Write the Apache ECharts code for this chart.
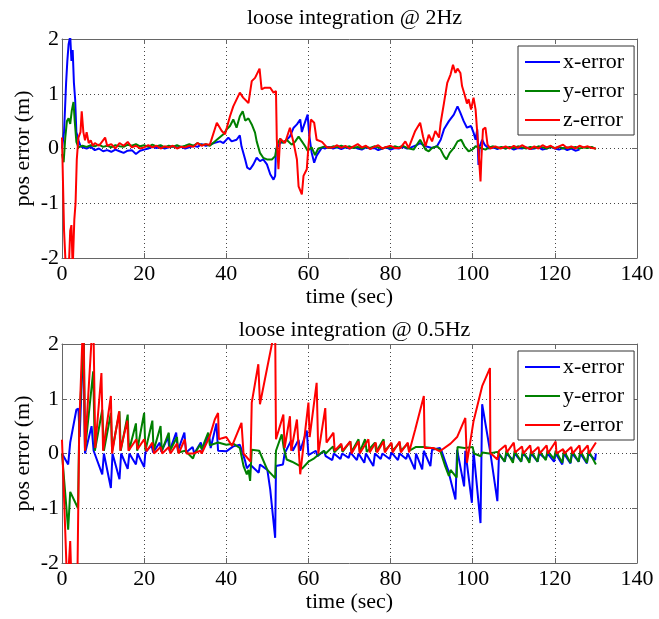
<!DOCTYPE html>
<html>
<head>
<meta charset="utf-8">
<script src="https://cdn.jsdelivr.net/npm/echarts@6/dist/echarts.min.js"></script>
<style>html,body{margin:0;padding:0;background:#fff}#c{width:659px;height:619px}</style>
</head>
<body>
<div id="c"></div>
<script>
var titles = ['loose integration @ 2Hz', 'loose integration @ 0.5Hz'];
var seriesNames = ['x-error', 'y-error', 'z-error'];
var xTicks = [0, 20, 40, 60, 80, 100, 120, 140];
var yTicks = [-2, -1, 0, 1, 2];

// top plot (2 Hz)
var topX = [[0,0],[0.5,0.3],[1,1.2],[1.3,1.6],[1.6,1.9],[2,2.05],[2.3,1.6],[2.6,1.8],[2.9,1.2],[3.2,0.9],[3.5,0.3],[4,0.15],[4.5,0.05],[5,0.02],[6,0.0],[7,0.03],[8,-0.03],[9,0.0],[10,-0.05],[11,-0.03],[12,-0.06],[13,-0.02],[14,-0.05],[15,-0.08],[16,-0.04],[17,-0.03],[18,-0.1],[19,-0.04],[20,-0.02],[21,0.0],[22,0.03],[23,0.01],[24,0.03],[25,0.0],[26,0.02],[27,0.04],[28,0.02],[29,0.03],[30,0.0],[31,0.02],[32,0.05],[33,0.03],[34,0.08],[35,0.05],[36,0.07],[37,0.1],[38.5,0.13],[39.3,0.1],[40.5,0.2],[41.3,0.13],[42.5,0.16],[43.3,0.24],[43.7,0.04],[44.6,-0.2],[45.1,-0.35],[45.8,-0.38],[46.6,-0.29],[47.4,-0.17],[48.2,-0.23],[49,-0.2],[49.9,-0.29],[50.7,-0.47],[51.5,-0.57],[51.9,-0.5],[52.1,-0.02],[53.1,0.1],[54.3,0.13],[55.5,0.22],[56.4,0.38],[57.2,0.44],[58,0.53],[58.4,0.3],[58.8,0.4],[59.8,0.62],[60.2,0.24],[60.8,-0.08],[61.4,-0.26],[62,-0.13],[63.3,0.02],[64,0.0],[65,0.03],[66,0.0],[67,0.02],[68,-0.01],[69,0.02],[70,0.0],[71,0.03],[72,0.0],[73,-0.02],[74,0.02],[75,0.0],[76,0.01],[77,-0.03],[78,0.0],[79,0.02],[80,-0.02],[81,0.01],[82,0.0],[83,0.03],[84,0.0],[85,0.02],[86,0.05],[87.2,0.1],[88.5,0.04],[90.1,0.01],[91.3,0.04],[92.2,0.16],[93,0.35],[94.2,0.5],[95.4,0.62],[96.3,0.77],[97,0.65],[97.8,0.5],[98.6,0.38],[99.6,0.41],[100.2,0.29],[100.7,0.16],[101.1,0.35],[101.4,-0.3],[101.7,0.04],[102.3,0.16],[102.9,0.07],[103.9,0.0],[105,0.02],[106,-0.01],[107,0.02],[108,0.0],[109,0.02],[110,-0.02],[111,0.01],[112,0.0],[113,0.02],[114,-0.01],[115,0.0],[116,0.02],[117,-0.02],[118,0.0],[119,0.03],[120,0.0],[121,-0.02],[122,0.01],[123,-0.03],[124,0.0],[125,-0.04],[126,-0.02]];
var topY = [[0,-0.1],[0.4,-0.25],[0.8,0.2],[1.2,0.5],[1.6,0.55],[2,0.45],[2.4,0.7],[2.8,0.85],[3.1,0.5],[3.5,0.12],[4,0.02],[5,0.05],[6,0.03],[7,0.06],[8,0.04],[9,0.07],[10,0.03],[11,0.05],[12,0.02],[13,0.06],[14,0.04],[15,0.03],[16,0.07],[17,0.05],[18,0.08],[19,0.04],[20,0.06],[21,0.03],[22,0.07],[23,0.04],[24,0.06],[25,0.02],[26,0.05],[27,0.03],[28,0.06],[29,0.03],[30,0.05],[31,0.08],[32,0.05],[33,0.1],[34,0.06],[35,0.08],[36,0.05],[37.7,0.16],[39.3,0.26],[40.1,0.35],[40.9,0.41],[41.7,0.53],[42.5,0.38],[43.3,0.59],[44,0.68],[44.6,0.51],[45.4,0.55],[46.2,0.44],[47,0.29],[47.4,0.13],[48.2,-0.08],[49,-0.17],[49.9,-0.2],[51.1,-0.2],[51.9,-0.14],[52.4,0.07],[53.1,0.18],[53.8,0.1],[54.7,0.16],[55.9,0.07],[56.8,0.13],[57.6,0.22],[58.4,0.13],[59.2,0.04],[59.8,-0.04],[60.8,0.02],[61.6,-0.12],[62.4,0.0],[63.3,0.02],[64,0.04],[65,0.01],[66,0.04],[67,0.02],[68,0.05],[69,0.02],[70,0.04],[71,0.01],[72,0.03],[73,0.0],[74,0.03],[75,0.01],[76,0.04],[77,0.02],[78,0.0],[79,0.03],[80,0.01],[81,0.04],[82,0.02],[83,0.05],[84,0.01],[85.6,-0.02],[87.2,0.16],[88.5,-0.02],[89.3,-0.05],[90.1,0.01],[91.3,0.04],[92.2,-0.02],[93,-0.14],[93.6,-0.2],[94.4,-0.08],[95.4,0.01],[96.3,0.13],[97.2,0.16],[98,0.04],[99,-0.05],[99.9,-0.02],[100.7,0.04],[101.9,0.01],[103.1,-0.02],[104,0.02],[105,0.04],[106,0.01],[107,0.03],[108,0.0],[109,0.03],[110,0.01],[111,0.04],[112,0.02],[113,0.0],[114,0.03],[115,0.01],[116,0.04],[117,0.02],[118,0.0],[119,0.03],[120,0.01],[121,0.03],[122,0.0],[123,0.02],[124,0.01],[125,0.03],[126,0.0],[127,0.02],[128,0.01],[129,0.03],[130,-0.01]];
var topZ = [[0,0.2],[0.5,-1.5],[1,-2.3],[1.5,-2.5],[2,-1.5],[2.3,-1.4],[2.6,-2.2],[3,-1.3],[3.3,-1.0],[3.6,-0.2],[4,0.2],[4.5,0.3],[4.8,0.68],[5.2,0.3],[5.6,0.15],[6,0.3],[6.5,0.1],[7,0.15],[7.5,0.05],[8,0.1],[9,0.05],[10,0.15],[10.5,0.2],[11,0.05],[12,0.08],[13,0.0],[14,0.1],[15,0.05],[16,0.12],[17,0.02],[18,0.05],[19,0.0],[20,0.02],[21,0.06],[22,0.02],[23,0.05],[24,0.0],[25,0.04],[26,0.02],[27,0.05],[28,0.0],[29,0.03],[30,0.02],[31,0.05],[32,0.03],[33,0.1],[34,0.05],[35,0.08],[36,0.07],[37.7,0.47],[38.9,0.32],[39.7,0.26],[40.9,0.59],[41.7,0.77],[43.3,1.02],[44.1,0.93],[45.4,0.83],[46.2,1.23],[47,1.29],[48.1,1.46],[48.6,1.08],[49.4,1.11],[50.7,1.11],[51.5,1.02],[52.1,1.05],[52.3,0.16],[52.7,-0.38],[53.1,0.18],[54.3,0.1],[55.5,0.38],[56.4,0.1],[57.2,-0.2],[57.6,-0.69],[58.4,-0.84],[58.8,-0.5],[59.6,-0.38],[60,0.04],[60.6,0.53],[61.4,0.47],[62,0.16],[63.3,0.12],[64.5,0.02],[66,0.02],[67,0.06],[68,0.01],[69,0.05],[70,0.0],[71,0.04],[72,0.08],[73,0.02],[74,0.05],[75,-0.01],[76,0.03],[77,0.06],[78,0.0],[79,0.03],[80,0.05],[81,0.01],[82.4,0.01],[83.6,0.13],[84.4,0.01],[86,0.32],[87.2,0.47],[87.9,0.22],[88.5,0.04],[89.3,0.25],[90.1,0.13],[90.9,0.32],[91.8,0.2],[92.2,0.47],[93,0.83],[93.8,1.2],[94.6,1.35],[95.2,1.53],[95.8,1.38],[96.3,1.46],[97,1.38],[97.4,1.14],[98,0.99],[98.6,0.82],[99,0.9],[99.6,0.71],[100.2,0.93],[100.7,0.71],[101.1,0.29],[101.5,-0.14],[101.9,-0.6],[102.1,-0.2],[102.5,0.35],[103.1,0.38],[103.6,0.07],[104.3,0.0],[105.5,0.04],[106.8,0.0],[108,0.04],[109,0.0],[110,0.05],[111,0.01],[112,0.06],[113,0.02],[114,-0.01],[115,0.04],[116,0.0],[117,0.06],[118,0.02],[119,0.05],[120,0.0],[121,0.04],[122,0.07],[123,0.01],[124,0.04],[125,0.0],[126,0.05],[127,0.02],[128,0.04],[129,0.01],[130,0.0]];

// bottom plot (0.5 Hz)
var botX = [[0,0.0],[1.5,-0.2],[2,0.2],[3.5,0.8],[4,0.82],[4.3,0.3],[5.2,2.1],[5.6,0.0],[7.2,0.5],[7.7,0.05],[9.8,-0.38],[10.2,0.0],[11.9,-0.63],[12.3,0.0],[14,-0.47],[14.4,0.0],[16,-0.28],[16.4,0.0],[18,-0.2],[18.4,0.0],[20,-0.25],[20.3,0.02],[21.8,0.15],[22.2,0.02],[23.8,0.2],[24.2,0.03],[25.8,0.3],[26.2,0.05],[27.8,0.38],[28.2,0.05],[29.8,0.38],[30.2,0.02],[31.8,0.12],[32.2,0.0],[33.8,0.2],[34.2,0.05],[35.8,0.35],[36.2,0.1],[37.6,0.55],[38,0.05],[40,0.04],[41.7,0.13],[43.3,0.16],[43.7,0.07],[44.6,-0.14],[45,-0.27],[45.8,-0.2],[47.9,-0.35],[48.2,-0.2],[50,-0.3],[50.7,-0.66],[51.9,-1.54],[52.1,-0.23],[53.8,-0.2],[54.2,0.0],[55.8,0.24],[56.2,0.05],[57.6,0.25],[58,0.05],[59.6,0.42],[60,-0.03],[61.8,0.05],[62.2,-0.05],[63.8,0.05],[64.2,-0.05],[65.8,-0.12],[66.2,0.0],[67.8,-0.1],[68.2,0.0],[69.8,-0.08],[70.2,0.02],[71.8,-0.12],[72.2,0.0],[73.6,-0.17],[74,0.0],[75.8,-0.23],[76.2,0.0],[77.6,-0.1],[78,0.0],[79.8,-0.1],[80.2,0.02],[81.8,-0.12],[82.2,0.0],[83.8,-0.1],[84.2,0.0],[85.9,-0.29],[86.2,0.0],[87.7,-0.29],[88.1,0.05],[89.7,-0.23],[90.1,0.07],[92,0.1],[92.4,0.05],[94,-0.3],[95.8,-0.84],[96.2,0.07],[97.9,-0.6],[98.2,0.05],[99.8,-0.9],[100.2,0.05],[101.9,-1.27],[102.3,0.9],[104.3,0.01],[106,-0.87],[106.4,0.0],[107.8,-0.15],[108.2,0.0],[109.8,-0.12],[110.2,0.0],[111.8,-0.15],[112.2,0.0],[113.8,-0.12],[114.2,0.0],[115.8,-0.15],[116.2,0.0],[117.8,-0.1],[118.2,0.0],[119.8,-0.15],[120.2,0.0],[121.8,-0.2],[122.2,0.0],[123.8,-0.18],[124.2,0.0],[125.8,-0.15],[126.2,0.0],[127.8,-0.18],[128.2,0.0],[129.8,-0.12],[130,0.0]];
var botY = [[0,0.0],[1.5,-1.39],[2,-0.7],[3.9,-1.0],[4.2,0.5],[5.3,2.2],[5.6,0.05],[7.6,1.5],[8,0.05],[9.8,0.8],[10.2,0.05],[11.9,0.74],[12.2,0.05],[14,0.77],[14.3,0.05],[16,0.71],[16.3,0.05],[18,0.55],[18.3,0.05],[20,0.74],[20.3,0.05],[22,0.6],[22.3,0.05],[24,0.5],[24.3,0.05],[26,0.38],[26.3,0.05],[28,0.3],[28.3,0.02],[30,0.05],[31.9,-0.09],[32.2,-0.02],[33.6,0.16],[34,0.08],[35.6,0.38],[36,0.15],[38,0.2],[40,0.16],[41.7,0.18],[43.3,0.1],[44.2,-0.23],[45,-0.38],[45.4,-0.3],[45.8,-0.5],[46.2,0.07],[48,0.05],[50,-0.3],[51.9,-0.45],[52.1,0.05],[53.5,0.35],[54,0.1],[54.7,-0.11],[56,-0.15],[58,-0.23],[58.4,-0.28],[60,-0.15],[61.2,-0.1],[62,-0.05],[63.8,0.05],[64.2,0.0],[66,0.13],[66.3,0.02],[68,0.15],[68.3,0.03],[70.2,0.22],[70.5,0.03],[72.2,0.26],[72.5,0.03],[73.8,0.26],[74.2,0.03],[76.2,0.2],[76.5,0.03],[78.3,0.26],[78.6,0.05],[80.2,0.18],[80.5,0.05],[82.2,0.2],[82.5,0.05],[84.2,0.18],[84.5,0.05],[86.2,0.12],[88,0.12],[90,0.1],[92,0.07],[93.3,-0.23],[94.2,-0.41],[94.6,-0.3],[96.1,-0.44],[96.3,0.12],[98,0.1],[100,0.12],[100.3,0.0],[102,-0.05],[102.3,0.02],[104,0.0],[106,0.03],[107.8,-0.15],[108.2,0.05],[109.8,-0.17],[110.2,0.05],[111.8,-0.15],[112.2,0.05],[113.8,-0.17],[114.2,0.05],[115.8,-0.15],[116.2,0.05],[117.8,-0.12],[118.2,0.05],[119.8,-0.1],[120.2,0.05],[121.8,-0.17],[122.2,0.05],[123.8,-0.17],[124.2,0.05],[125.8,-0.15],[126.2,0.05],[127.8,-0.17],[128.2,0.05],[130,-0.2]];
var botZ = [[0,0.25],[1.3,-2.5],[2,-1.6],[2.4,-2.6],[3.7,-2.6],[4.2,0.5],[5.2,2.6],[5.6,0.05],[7.6,2.6],[8.1,0.1],[9.6,1.47],[10,0.05],[11.9,1.05],[12.2,0.0],[13.9,0.77],[14.2,0.05],[15.9,0.6],[16.2,0.05],[18.1,0.26],[18.4,0.08],[20,0.26],[20.6,0.04],[22,0.2],[22.4,0.0],[24,0.12],[24.4,0.0],[26,0.12],[26.4,0.0],[28,0.18],[28.4,0.0],[29.9,0.26],[30.3,0.0],[32,0.0],[33.7,0.05],[34,0.0],[36,0.32],[37.2,0.62],[38,0.74],[38.2,0.26],[39,0.28],[40,0.3],[41.4,0.14],[43.7,0.56],[44.2,0.0],[45.9,-0.15],[46.2,0.93],[47.8,1.63],[48.2,0.9],[51.9,2.3],[52.1,0.26],[53.9,0.71],[54.2,0.1],[55.5,0.68],[55.8,0.05],[57.2,0.62],[58,-0.38],[60,0.93],[60.3,0.3],[62,1.29],[62.4,0.0],[64.1,0.83],[64.4,0.2],[66.1,0.38],[66.4,0.05],[68,0.18],[68.3,0.05],[70.2,0.22],[70.5,0.0],[72.2,0.22],[72.5,0.0],[74.6,0.26],[74.9,0.02],[76.4,0.2],[76.7,0.02],[78.3,0.22],[78.6,0.02],[80.2,0.2],[80.5,0.02],[82.2,0.22],[82.5,0.02],[84.2,0.2],[84.5,0.02],[86,0.44],[88.1,1.05],[88.3,0.1],[90.5,0.1],[92,0.04],[94.6,0.18],[96.2,0.3],[98.2,0.65],[98.6,-0.17],[100.2,0.59],[102.3,1.23],[104.2,1.56],[104.3,0.01],[106,-0.11],[106.4,0.05],[108,0.15],[108.3,0.02],[110,0.2],[110.3,0.02],[112,0.13],[112.3,0.0],[114,0.15],[114.3,0.0],[116,0.12],[116.3,0.0],[118,0.15],[118.3,0.0],[120.2,0.22],[120.4,0.0],[122,0.08],[122.3,0.0],[124,0.12],[124.3,0.0],[126,0.15],[126.3,0.0],[128,0.15],[128.3,0.0],[130,0.2]];

var colors = ['#0000ff', '#008000', '#ff0000'];
var FONT = 'Liberation Serif, Times New Roman, serif';
var FS = 22;

var grids = [
  {left: 62, top: 39, width: 575, height: 219},
  {left: 62, top: 344, width: 575, height: 219}
];

function xAx(g, top) {
  return {
    type: 'value', gridIndex: g, position: top ? 'top' : 'bottom',
    min: xTicks[0], max: xTicks[xTicks.length - 1], interval: xTicks[1] - xTicks[0],
    name: top ? '' : 'time (sec)', nameLocation: 'middle', nameGap: 28, nameMoveOverlap: false,
    nameTextStyle: {fontFamily: FONT, fontSize: FS, color: '#000'},
    axisLine: {show: true, onZero: false, lineStyle: {color: '#666', width: 1}},
    axisTick: {show: true, inside: true, length: 5, lineStyle: {color: '#666'}},
    axisLabel: {show: !top, margin: 5, fontFamily: FONT, fontSize: FS, color: '#000'},
    splitLine: {show: !top, lineStyle: {color: '#444', type: [1, 3], width: 1}}
  };
}
function yAx(g, right) {
  return {
    type: 'value', gridIndex: g, position: right ? 'right' : 'left',
    min: yTicks[0], max: yTicks[yTicks.length - 1], interval: yTicks[1] - yTicks[0],
    name: right ? '' : 'pos error (m)', nameLocation: 'middle', nameGap: 28, nameMoveOverlap: false,
    nameTextStyle: {fontFamily: FONT, fontSize: FS, color: '#000'},
    axisLine: {show: true, onZero: false, lineStyle: {color: '#666', width: 1}},
    axisTick: {show: true, inside: true, length: 5, lineStyle: {color: '#666'}},
    axisLabel: {show: !right, margin: 3, fontFamily: FONT, fontSize: FS, color: '#000'},
    splitLine: {show: !right, lineStyle: {color: '#444', type: [1, 3], width: 1}}
  };
}

var dataSets = [[topX, topY, topZ], [botX, botY, botZ]];
var series = [];
for (var g = 0; g < 2; g++) {
  for (var s = 0; s < 3; s++) {
    series.push({
      type: 'line', name: seriesNames[s], xAxisIndex: g * 2, yAxisIndex: g * 2,
      data: dataSets[g][s], showSymbol: false, symbol: 'none', clip: true,
      lineStyle: {color: colors[s], width: 2}, itemStyle: {color: colors[s]},
      animation: false, z: 2 + s
    });
  }
}

function legendAt(top) {
  return {
    data: seriesNames, orient: 'vertical', left: 518, top: top,
    icon: 'rect', itemWidth: 35, itemHeight: 2, itemGap: 7,
    padding: [5, 10, 4, 7], borderColor: '#333', borderWidth: 1, backgroundColor: '#fff',
    textStyle: {fontFamily: FONT, fontSize: FS, color: '#000', padding: [0, 0, 0, -2]},
    selectedMode: false, z: 10
  };
}

var chart = echarts.init(document.getElementById('c'), null, {renderer: 'canvas'});
chart.setOption({
  backgroundColor: '#fff',
  animation: false,
  title: [
    {text: titles[0], left: 349.5, textAlign: 'center', top: 2, textStyle: {fontFamily: FONT, fontSize: FS, fontWeight: 'normal', color: '#000'}},
    {text: titles[1], left: 349.5, textAlign: 'center', top: 314, textStyle: {fontFamily: FONT, fontSize: FS, fontWeight: 'normal', color: '#000'}}
  ],
  legend: [legendAt(46), legendAt(351)],
  grid: grids,
  xAxis: [xAx(0, false), xAx(0, true), xAx(1, false), xAx(1, true)],
  yAxis: [yAx(0, false), yAx(0, true), yAx(1, false), yAx(1, true)],
  series: series
});
</script>
</body>
</html>
